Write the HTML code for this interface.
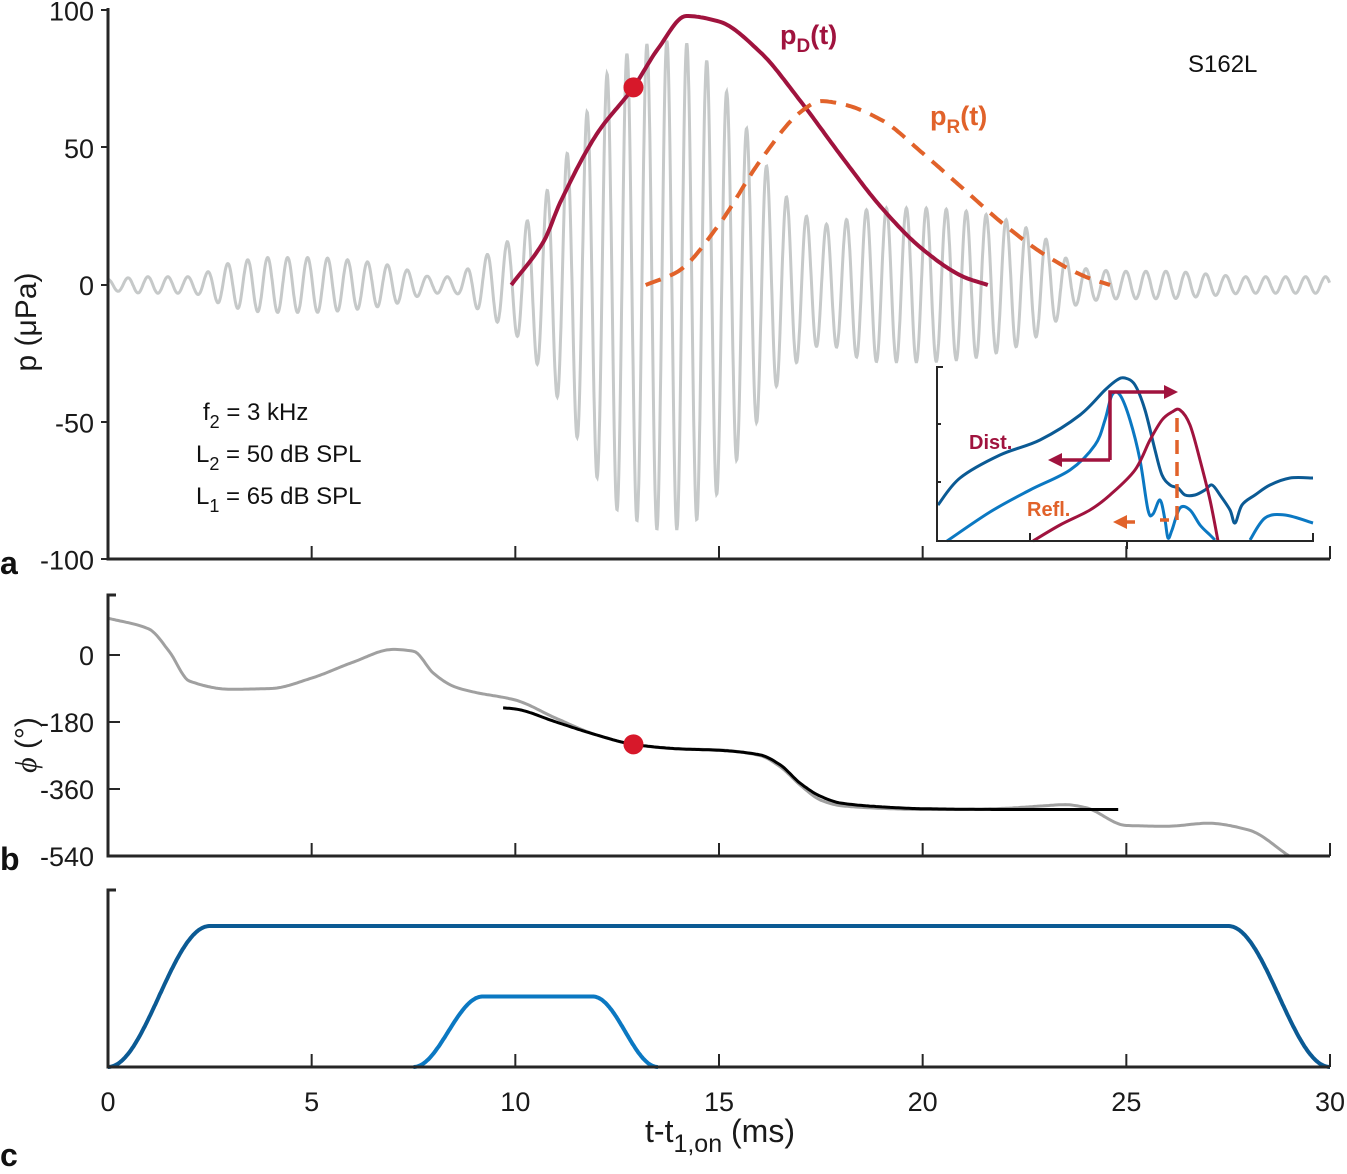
<!DOCTYPE html>
<html><head><meta charset="utf-8"><style>
html,body{margin:0;padding:0;background:#fff;}
svg{display:block;font-family:"Liberation Sans",sans-serif;}
</style></head><body>
<svg id="chart" width="1347" height="1174" viewBox="0 0 1347 1174" xmlns="http://www.w3.org/2000/svg">
<g id="pa"></g>
<g id="pb"></g>
<g id="pc"></g>
<g id="inset"></g>
</svg>
<script>
// ---- data ----
const envT   = [0,1,2,3,4,5,6,7,8,8.5,9,9.5,10,10.5,11,11.5,12,12.5,13,13.5,14,14.5,15,15.5,16,16.5,17,17.5,18,18.5,19,20,21,22,23,23.5,24,25,26,27,28,29,30];
const envA   = [2,3,3,8,10,10,9,7,3,3,8,13,18,28,40,55,70,82,86,89,89,85,75,62,48,35,27,22,23,27,28,28,27,24,17,10,6,5,5,4,3,3,3];
const carrierPeriod = 0.49;
const pdT = [9.9,10.7,11.1,12,12.9,13.5,14.2,15,16,17,18,19,20,21,21.6];
const pdV = [0,16,30,55,72,86,98,96,85,67,47,28,13,3,0];
const prT = [13.2,14,15,16,17,17.5,18,19,20,21,22,23,24,24.6];
const prV = [0,5,22,45,63,67,66,60,48,35,22,11,3,0];
const dotT = 12.9, dotP = 72, dotPhi = -240;
const phT = [0,1,1.5,2,3,4,5,6,7,7.5,8,8.5,9,10,11,12,13,14,15,16,16.5,17,17.5,18,19,20,21,22,23,23.5,24,25,26,27,28,29];
const phV = [99,70,10,-70,-92,-90,-62,-20,15,10,-50,-85,-100,-121,-170,-215,-242,-252,-255,-270,-300,-350,-390,-405,-412,-415,-415,-412,-405,-402,-410,-458,-460,-452,-470,-540];
const bkT = [9.7,10,11,12,12.9,14,15,16,16.5,17,17.5,18,19,20,22,24.8];
const bkV = [-142,-145,-180,-215,-240,-252,-256,-268,-295,-345,-380,-398,-408,-413,-415,-415];
const xTicks = [0,5,10,15,20,25,30];
const aTicks = [100,50,0,-50,-100];
const bTicks = [0,-180,-360,-540];
const ramp1 = [0,2.5,27.5,30], amp1 = 1;
const ramp2 = [7.5,9.2,11.9,13.5], amp2 = 0.5;

// ---- scales ----
const X = t => 108 + t*(1330-108)/30;
const YA = v => 285 - v*2.745;
const YB = v => 655 - v*67/180;
const YC = v => 1067 - v*141;
const NS = "http://www.w3.org/2000/svg";
function mk(parent, tag, attrs, text){
  const e = document.createElementNS(NS, tag);
  for (const k in attrs) e.setAttribute(k, attrs[k]);
  if (text !== undefined) e.textContent = text;
  document.getElementById(parent).appendChild(e); return e;
}
function interp(ts, vs, t){
  const n=ts.length;
  if (t<=ts[0]) return vs[0];
  if (t>=ts[n-1]) return vs[n-1];
  let i=1; while(t>ts[i]) i++;
  const sl=k=>(vs[k+1]-vs[k])/(ts[k+1]-ts[k]);
  const tan=k=>{ if(k===0) return sl(0); if(k===n-1) return sl(n-2);
    const a=sl(k-1), b=sl(k); if(a*b<=0) return 0; return 2/(1/a+1/b); };
  const h=ts[i]-ts[i-1], s=(t-ts[i-1])/h;
  const m0=tan(i-1)*h, m1=tan(i)*h;
  const s2=s*s, s3=s2*s;
  return (2*s3-3*s2+1)*vs[i-1]+(s3-2*s2+s)*m0+(-2*s3+3*s2)*vs[i]+(s3-s2)*m1;
}
function curve(ts, vs, Y, step){
  let d=""; for (let t=ts[0]; t<=ts[ts.length-1]+1e-9; t+=step){ d += (d?"L":"M")+X(t).toFixed(1)+","+Y(interp(ts,vs,t)).toFixed(1);} return d;
}
function smooth(pts){
  let d="M"+pts[0][0]+","+pts[0][1];
  for(let i=0;i<pts.length-1;i++){
    const p0=pts[Math.max(0,i-1)],p1=pts[i],p2=pts[i+1],p3=pts[Math.min(pts.length-1,i+2)];
    const c1=[p1[0]+(p2[0]-p0[0])/6,p1[1]+(p2[1]-p0[1])/6], c2=[p2[0]-(p3[0]-p1[0])/6,p2[1]-(p3[1]-p1[1])/6];
    d+="C"+c1.map(v=>v.toFixed(1))+" "+c2.map(v=>v.toFixed(1))+" "+p2[0]+","+p2[1];
  } return d;
}
const AX = "#262626";

// ---- panel a ----
let e;
e = mk("pa","path",{d:"M108,10H101M108,147H101M108,285H101M108,422H101M108,559H101",stroke:AX,"stroke-width":2});
 
let wd=""; for (let t=0;t<=30;t+=0.01){ const a=interp(envT,envA,t); const v=a*Math.sin(2*Math.PI*t/carrierPeriod+Math.PI/2); wd+=(wd?"L":"M")+X(t).toFixed(1)+","+YA(v).toFixed(1);}
e = mk("pa","path",{d:wd,fill:"none",stroke:"#c6c9c9","stroke-width":3});
 
e = mk("pa","path",{d:curve(pdT,pdV,YA,0.05),fill:"none",stroke:"#a0133e","stroke-width":4});
 
e = mk("pa","path",{d:curve(prT,prV,YA,0.05),fill:"none",stroke:"#e1622a","stroke-width":4,"stroke-dasharray":"16,10"});
 
e = mk("pa","circle",{cx:X(dotT),cy:YA(dotP),r:10,fill:"#d7182a"});
 
e = mk("pa","path",{d:"M108,8V559H1330",fill:"none",stroke:AX,"stroke-width":3});
 
xTicks.forEach(t=>{ e=mk("pa","line",{x1:X(t),x2:X(t),y1:559,y2:546,stroke:AX,"stroke-width":2});
 });
aTicks.forEach(v=>{ e=mk("pa","text",{x:94,y:YA(v)+10,"text-anchor":"end","font-size":27,fill:"#1a1a1a"},String(v));
 });
e = mk("pa","text",{x:0,y:0,"font-size":30,transform:"translate(36,322) rotate(-90)","text-anchor":"middle",fill:"#1a1a1a"},"p (μPa)");
 
e = mk("pa","text",{x:1188,y:72,"font-size":24,fill:"#111"},"S162L");
 
e = mk("pa","text",{x:780,y:44,"font-size":27,"font-weight":"bold",fill:"#a0133e"},""); e.innerHTML='p<tspan font-size="19" dy="8">D</tspan><tspan dy="-8">(t)</tspan>';
 
e = mk("pa","text",{x:930,y:125,"font-size":27,"font-weight":"bold",fill:"#e1622a"},""); e.innerHTML='p<tspan font-size="19" dy="8">R</tspan><tspan dy="-8">(t)</tspan>';
 
[["f","2","= 3 kHz",203,420],["L","2","= 50 dB SPL",196,462],["L","1","= 65 dB SPL",196,504]].forEach(r=>{
 e=mk("pa","text",{x:r[3],y:r[4],"font-size":24,fill:"#111"},""); e.innerHTML=r[0]+'<tspan font-size="18" dy="8">'+r[1]+'</tspan><tspan dy="-8"> '+r[2]+'</tspan>';
  });
e = mk("pa","text",{x:0,y:574,"font-size":32,"font-weight":"bold",fill:"#111"},"a");
 

// ---- panel b ----
e = mk("pb","path",{d:curve(phT,phV,YB,0.05),fill:"none",stroke:"#a0a0a0","stroke-width":3});
 
e = mk("pb","path",{d:curve(bkT,bkV,YB,0.05),fill:"none",stroke:"#000","stroke-width":3});
 
e = mk("pb","circle",{cx:X(dotT),cy:YB(dotPhi),r:10,fill:"#d7182a"});
 
e = mk("pb","path",{d:"M116,595H108V856H1330",fill:"none",stroke:AX,"stroke-width":3});
 
xTicks.forEach(t=>{ e=mk("pb","line",{x1:X(t),x2:X(t),y1:856,y2:843,stroke:AX,"stroke-width":2});
 });
bTicks.forEach(v=>{ e=mk("pb","line",{x1:108,x2:120,y1:YB(v),y2:YB(v),stroke:AX,"stroke-width":2});
 
e=mk("pb","text",{x:94,y:YB(v)+10,"text-anchor":"end","font-size":27,fill:"#1a1a1a"},String(v));
 });
e = mk("pb","text",{x:0,y:0,"font-size":30,transform:"translate(36,745) rotate(-90)","text-anchor":"middle",fill:"#1a1a1a"},"");
e.innerHTML='<tspan font-style="italic" font-family="Liberation Serif">ϕ</tspan> (°)';
 
e = mk("pb","text",{x:0,y:870,"font-size":32,"font-weight":"bold",fill:"#111"},"b");
 

// ---- panel c ----
function trap(r, amp){ let d=""; for(let t=r[0];t<=r[3]+1e-9;t+=0.02){ let v;
 if(t<r[1]) v=(1-Math.cos(Math.PI*(t-r[0])/(r[1]-r[0])))/2; else if(t<=r[2]) v=1; else v=(1+Math.cos(Math.PI*(t-r[2])/(r[3]-r[2])))/2;
 d+=(d?"L":"M")+X(t).toFixed(1)+","+YC(v*amp).toFixed(1);} return d; }
e = mk("pc","path",{d:trap(ramp1,amp1),fill:"none",stroke:"#0b5a94","stroke-width":4});
 
e = mk("pc","path",{d:trap(ramp2,amp2),fill:"none",stroke:"#0b78c2","stroke-width":4});
 
e = mk("pc","path",{d:"M116,890H108V1067H1330",fill:"none",stroke:AX,"stroke-width":3});
 
xTicks.forEach(t=>{ e=mk("pc","line",{x1:X(t),x2:X(t),y1:1067,y2:1054,stroke:AX,"stroke-width":2});
 
e=mk("pc","text",{x:X(t),y:1111,"text-anchor":"middle","font-size":27,fill:"#1a1a1a"},String(t));
 });
e = mk("pc","text",{x:720,y:1142,"text-anchor":"middle","font-size":32,fill:"#1a1a1a"},"");
e.innerHTML='t-t<tspan font-size="25" dy="10">1,on</tspan><tspan dy="-10"> (ms)</tspan>';
 
e = mk("pc","text",{x:0,y:1166,"font-size":32,"font-weight":"bold",fill:"#111"},"c");
 

// ---- inset ----
const insDark = [[938,505],[960,478],[1000,455],[1040,440],[1080,415],[1105,390],[1117,380],[1125,378],[1135,385],[1145,410],[1155,450],[1162,475],[1170,485],[1178,488],[1185,495],[1195,495],[1205,490],[1212,485],[1220,495],[1230,510],[1235,523],[1242,505],[1255,495],[1270,485],[1290,478],[1313,478]];
const insLight1 = [[947,541],[990,512],[1030,490],[1070,470],[1095,445],[1105,420],[1112,395],[1120,395],[1130,420],[1140,460],[1148,510],[1153,514],[1160,500],[1165,520],[1168,538],[1172,530],[1180,508],[1190,510],[1200,525],[1210,535],[1215,540]];
const insLight2 = [[1250,540],[1265,518],[1285,515],[1313,523]];
const insRed = [[1033,541],[1060,525],[1090,510],[1110,495],[1135,470],[1150,440],[1162,420],[1172,412],[1180,410],[1190,425],[1200,460],[1210,500],[1218,541]];
e = mk("inset","path",{d:smooth(insDark),fill:"none",stroke:"#0b5a94","stroke-width":3});
 
e = mk("inset","path",{d:smooth(insLight1)+smooth(insLight2),fill:"none",stroke:"#0b78c2","stroke-width":3});
 
e = mk("inset","path",{d:smooth(insRed),fill:"none",stroke:"#a0133e","stroke-width":3});
 
e = mk("inset","path",{d:"M1110,460V392H1168M1060,460H1110",fill:"none",stroke:"#a0133e","stroke-width":3.5});
 
e = mk("inset","path",{d:"M1178,392l-14,-7v14zM1048,460l14,-7v14z",fill:"#a0133e"});
 
e = mk("inset","path",{d:"M1177,418V520H1160M1135,522H1125",fill:"none",stroke:"#e1622a","stroke-width":3.5,"stroke-dasharray":"14,8"});
 
e = mk("inset","path",{d:"M1113,522l14,-7v14z",fill:"#e1622a"});
 
e = mk("inset","path",{d:"M943,367H937V541H1313V533M1030,541V533M1127,541V549",fill:"none",stroke:AX,"stroke-width":2});
 
e = mk("inset","path",{d:"M937,424H941M937,482H941",stroke:AX,"stroke-width":2});
 
e = mk("inset","text",{x:969,y:449,"font-size":20,"font-weight":"bold",fill:"#a0133e"},"Dist.");
 
e = mk("inset","text",{x:1027,y:516,"font-size":20,"font-weight":"bold",fill:"#e1622a"},"Refl.");
 
</script>
</body></html>
